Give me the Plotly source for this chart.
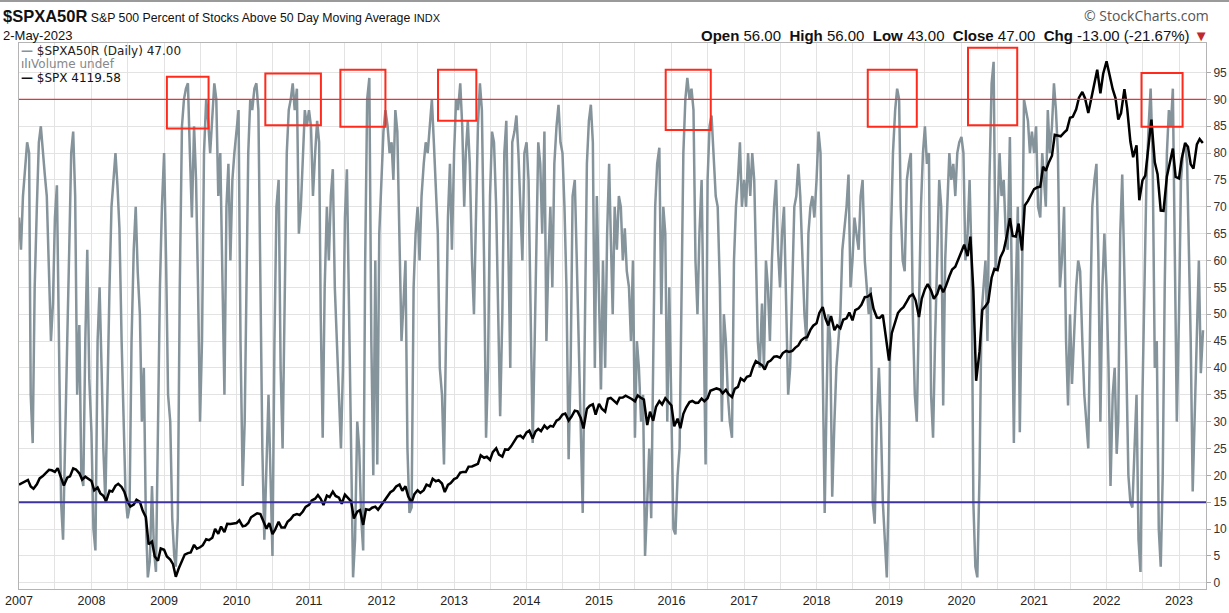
import pandas as pd
import plotly.graph_objects as go

# ---------------- data: $SPXA50R (percent above 50-day MA), read ~3 points per month (1st, 11th, 21st)
pct_2007 = [68, 62, 72, 78, 82, 80, 35, 26, 55, 70, 82, 85, 80, 76, 72, 60, 45, 52,
            68, 74, 45, 15, 8, 28, 45, 62, 80, 84, 72, 35, 48, 20, 18, 45, 62, 38]
pct_2008 = [28, 10, 6, 45, 55, 40, 25, 15, 38, 55, 70, 76, 80, 74, 66, 45, 28, 16,
            12, 14, 45, 62, 70, 58, 50, 30, 40, 12, 1, 4, 18, 6, 2, 30, 55, 70]
pct_2009 = [80, 60, 35, 30, 12, 5, 3, 12, 55, 85, 90, 92, 93, 80, 68, 85, 75, 55,
            30, 45, 80, 90, 86, 80, 88, 93, 90, 72, 80, 60, 35, 70, 78, 60, 75, 80]
pct_2010 = [85, 88, 45, 18, 30, 65, 80, 90, 88, 92, 93, 88, 60, 25, 8, 20, 35, 20,
            5, 45, 70, 75, 40, 25, 60, 80, 88, 90, 93, 88, 92, 65, 70, 80, 88, 85]
pct_2011 = [88, 85, 72, 80, 86, 82, 50, 27, 55, 70, 60, 72, 77, 55, 45, 36, 25, 40,
            68, 77, 50, 20, 1, 8, 30, 25, 12, 6, 60, 90, 94, 45, 20, 60, 22, 65]
pct_2012 = [75, 84, 88, 85, 80, 82, 75, 88, 84, 65, 45, 52, 60, 25, 13, 14, 55, 65,
            70, 60, 72, 78, 82, 80, 86, 90, 82, 72, 65, 40, 35, 22, 45, 68, 78, 62]
pct_2013 = [80, 90, 88, 93, 85, 70, 80, 86, 78, 60, 50, 70, 85, 93, 88, 60, 27, 40,
            72, 84, 82, 70, 50, 31, 50, 80, 86, 60, 40, 82, 84, 87, 80, 70, 60, 80]
pct_2014 = [82, 75, 55, 26, 45, 70, 82, 78, 65, 84, 45, 60, 70, 55, 78, 85, 89, 82,
            80, 70, 55, 23, 40, 72, 75, 60, 45, 28, 13, 45, 78, 86, 89, 82, 40, 72]
pct_2015 = [50, 36, 60, 40, 65, 78, 65, 50, 70, 62, 72, 70, 60, 66, 58, 55, 45, 60,
            27, 45, 40, 30, 35, 5, 15, 25, 12, 40, 70, 78, 81, 50, 70, 65, 30, 55]
pct_2016 = [35, 10, 9, 20, 25, 55, 80, 90, 94, 90, 92, 88, 60, 50, 65, 75, 50, 22,
            75, 85, 87, 78, 72, 70, 55, 30, 50, 45, 35, 30, 27, 60, 70, 75, 82, 70]
pct_2017 = [75, 70, 80, 72, 80, 75, 62, 45, 40, 52, 40, 60, 55, 45, 60, 70, 75, 62,
            55, 65, 70, 50, 35, 40, 55, 70, 72, 78, 72, 60, 50, 45, 65, 70, 72, 68]
pct_2018 = [75, 84, 80, 40, 13, 35, 50, 45, 16, 30, 40, 45, 50, 62, 66, 70, 76, 55,
            60, 68, 65, 62, 72, 75, 60, 55, 50, 55, 15, 11, 30, 40, 30, 15, 8, 1]
pct_2019 = [20, 65, 80, 88, 92, 90, 70, 60, 58, 75, 78, 80, 50, 35, 30, 50, 70, 80,
            85, 78, 80, 35, 27, 45, 60, 75, 70, 33, 60, 70, 80, 75, 78, 72, 80, 82]
pct_2020 = [83, 80, 60, 65, 75, 60, 15, 3, 1, 20, 50, 55, 60, 45, 75, 93, 97, 58,
            70, 80, 72, 75, 65, 62, 83, 50, 26, 55, 70, 28, 55, 90, 88, 86, 80, 84]
pct_2021 = [80, 85, 70, 68, 80, 75, 70, 88, 80, 85, 93, 88, 80, 55, 60, 70, 45, 33,
            50, 37, 45, 55, 60, 58, 45, 35, 30, 25, 50, 70, 75, 78, 60, 30, 55, 65]
pct_2022 = [55, 40, 18, 35, 40, 24, 30, 65, 76, 60, 40, 20, 15, 14, 25, 35, 8, 2,
            35, 55, 75, 85, 92, 80, 40, 45, 10, 3, 20, 55, 80, 88, 85, 92, 65, 30]
pct_2023 = [50, 75, 80, 82, 78, 60, 45, 17, 30, 45, 60, 39, 47]

# ---------------- data: $SPX close, semi-monthly (1st, 15th)
spx_2007 = [1418, 1431, 1445, 1456, 1404, 1386, 1421, 1468, 1486, 1512, 1536, 1532,
            1519, 1549, 1465, 1411, 1473, 1484, 1547, 1538, 1508, 1458, 1481, 1468]
spx_2008 = [1447, 1373, 1395, 1349, 1330, 1288, 1370, 1364, 1409, 1425, 1400, 1360,
            1284, 1245, 1260, 1298, 1282, 1213, 1161, 946, 968, 850, 816, 913]
spx_2009 = [903, 850, 825, 789, 690, 753, 811, 865, 877, 882, 942, 911,
            923, 940, 987, 979, 998, 1068, 1029, 1087, 1042, 1109, 1108, 1109]
spx_2010 = [1115, 1136, 1089, 1094, 1115, 1160, 1178, 1192, 1186, 1135, 1070, 1114,
            1027, 1065, 1125, 1079, 1080, 1125, 1146, 1176, 1185, 1178, 1206, 1243]
spx_2011 = [1258, 1293, 1307, 1336, 1306, 1257, 1332, 1320, 1363, 1329, 1315, 1267,
            1340, 1316, 1286, 1150, 1204, 1216, 1100, 1224, 1218, 1236, 1244, 1219]
spx_2012 = [1258, 1293, 1324, 1358, 1374, 1404, 1419, 1370, 1405, 1325, 1278, 1343,
            1374, 1353, 1375, 1418, 1406, 1465, 1445, 1454, 1427, 1360, 1416, 1430]
spx_2013 = [1462, 1472, 1513, 1519, 1518, 1561, 1562, 1574, 1582, 1650, 1631, 1639,
            1614, 1676, 1706, 1655, 1640, 1697, 1695, 1721, 1762, 1798, 1805, 1786]
spx_2014 = [1831, 1845, 1782, 1838, 1859, 1841, 1885, 1862, 1883, 1877, 1924, 1937,
            1973, 1981, 1925, 1955, 2003, 1998, 1946, 1862, 2018, 2041, 2053, 1972]
spx_2015 = [2058, 2019, 1995, 2097, 2104, 2081, 2060, 2106, 2108, 2122, 2111, 2096,
            2077, 2124, 2104, 2092, 1890, 1995, 1923, 2033, 2079, 2053, 2102, 2073]
spx_2016 = [2044, 1880, 1940, 1865, 1978, 2028, 2072, 2080, 2065, 2066, 2099, 2077,
            2102, 2161, 2173, 2179, 2170, 2140, 2168, 2133, 2111, 2176, 2191, 2258]
spx_2017 = [2239, 2271, 2279, 2347, 2395, 2381, 2363, 2329, 2388, 2400, 2430, 2433,
            2423, 2459, 2476, 2468, 2476, 2500, 2519, 2557, 2579, 2585, 2642, 2675]
spx_2018 = [2695, 2776, 2822, 2732, 2677, 2752, 2640, 2677, 2655, 2722, 2734, 2780,
            2718, 2798, 2813, 2840, 2901, 2905, 2924, 2809, 2740, 2736, 2760, 2600]
spx_2019 = [2400, 2616, 2707, 2775, 2803, 2822, 2867, 2907, 2924, 2876, 2744, 2889,
            2964, 3004, 2953, 2888, 2926, 2998, 2940, 2990, 3066, 3120, 3141, 3191]
spx_2020 = [3258, 3316, 3225, 3380, 2954, 2240, 2470, 2799, 2830, 2863, 3055, 3124,
            3115, 3215, 3271, 3372, 3526, 3385, 3380, 3483, 3270, 3626, 3662, 3701]
spx_2021 = [3756, 3768, 3774, 3932, 3901, 3962, 4020, 4185, 4181, 4173, 4202, 4223,
            4320, 4327, 4387, 4479, 4524, 4473, 4357, 4471, 4613, 4700, 4513, 4668]
spx_2022 = [4766, 4662, 4546, 4475, 4306, 4357, 4546, 4392, 4132, 4008, 4101, 3667,
            3825, 3863, 4118, 4305, 3967, 3873, 3586, 3583, 3856, 3959, 4076, 3852]
spx_2023 = [3840, 3999, 4119, 4090, 3951, 3917, 4109, 4151, 4119.58]

# ---------------- annotation boxes (highlighted peaks) and reference levels
box_start = ["2009-01-15", "2010-05-26", "2011-06-08", "2012-10-12",
             "2015-12-03", "2018-09-16", "2020-02-03", "2022-06-26"]
box_end = ["2009-08-13", "2011-03-02", "2012-01-21", "2013-04-23",
           "2016-07-17", "2019-05-21", "2020-10-08", "2023-01-19"]
box_top = [94.2, 94.8, 95.5, 95.5, 95.5, 95.5, 99.6, 94.9]
box_bottom = [84.6, 85.2, 84.9, 86.0, 84.3, 84.9, 85.2, 84.9]
upper_level = 90
lower_level = 15
year_ticks = list(range(2007, 2024))
y_ticks = list(range(0, 100, 5))

# ---------------- assemble series
pct_lists = [pct_2007, pct_2008, pct_2009, pct_2010, pct_2011, pct_2012, pct_2013,
             pct_2014, pct_2015, pct_2016, pct_2017, pct_2018, pct_2019, pct_2020,
             pct_2021, pct_2022]
pct_dates = []
for y in range(2007, 2023):
    for m in range(1, 13):
        for d in (1, 11, 21):
            pct_dates.append(f"{y}-{m:02d}-{d:02d}")
pct_dates += [f"2023-{m:02d}-{d:02d}" for m in range(1, 5) for d in (1, 11, 21)]
pct_dates.append("2023-05-02")
pct_values = [v for lst in pct_lists for v in lst] + pct_2023
assert len(pct_dates) == len(pct_values), (len(pct_dates), len(pct_values))

spx_lists = [spx_2007, spx_2008, spx_2009, spx_2010, spx_2011, spx_2012, spx_2013,
             spx_2014, spx_2015, spx_2016, spx_2017, spx_2018, spx_2019, spx_2020,
             spx_2021, spx_2022, spx_2023]
spx_values = [v for lst in spx_lists for v in lst]
spx_dates = list(pd.date_range("2007-01-01", periods=len(spx_values), freq="SMS"))

GRAY = "#85939b"
W, H = 1229, 613
L, R, T, B = 19, 1206, 43, 589


def xp(px):
    return (px - L) / (R - L)


def yp(py):
    return (B - py) / (B - T)


fig = go.Figure()
fig.add_trace(go.Scatter(x=pct_dates, y=pct_values, mode="lines",
                         line=dict(color=GRAY, width=2.5), hoverinfo="skip"))
fig.add_trace(go.Scatter(x=spx_dates, y=spx_values, mode="lines", yaxis="y2",
                         line=dict(color="#000000", width=2.5), hoverinfo="skip"))

shapes = [
    dict(type="line", xref="paper", yref="y", x0=0, x1=1, y0=upper_level, y1=upper_level,
         line=dict(color="#e4353b", width=1.3), layer="above"),
    dict(type="line", xref="paper", yref="y", x0=0, x1=1, y0=lower_level, y1=lower_level,
         line=dict(color="#3d32a3", width=2), layer="above"),
]
for x0, x1, y0, y1 in zip(box_start, box_end, box_bottom, box_top):
    shapes.append(dict(type="rect", xref="x", yref="y", x0=x0, x1=x1, y0=y0, y1=y1,
                       line=dict(color="#ff2a1c", width=2), fillcolor="rgba(0,0,0,0)",
                       layer="above"))
# thin frame line at the very top of the image
shapes.append(dict(type="line", xref="paper", yref="paper", x0=xp(0), x1=xp(W),
                   y0=yp(1), y1=yp(1), line=dict(color="#9a9a9a", width=2)))

SANS = "Liberation Sans, Arial, sans-serif"
ann = []
ann.append(dict(x=xp(1), y=yp(16), xref="paper", yref="paper", xanchor="left", yanchor="middle",
                showarrow=False,
                text="<b><span style='font-size:16.5px'>$SPXA50R</span></b> "
                     "S&amp;P 500 Percent of Stocks Above 50 Day Moving Average "
                     "<span style='font-size:11px'>INDX</span>",
                font=dict(family=SANS, size=12.3, color="#111")))
ann.append(dict(x=xp(1), y=yp(35), xref="paper", yref="paper", xanchor="left", yanchor="middle",
                showarrow=False, text="2-May-2023",
                font=dict(family=SANS, size=13, color="#111")))
ann.append(dict(x=xp(1211), y=yp(16), xref="paper", yref="paper", xanchor="right",
                yanchor="middle", showarrow=False, text="© StockCharts.com",
                font=dict(family="Open Sans, DejaVu Sans, sans-serif", size=14, color="#555")))
ann.append(dict(x=xp(1211), y=yp(35), xref="paper", yref="paper", xanchor="right",
                yanchor="middle", showarrow=False,
                text="<b>Open</b> 56.00  <b>High</b> 56.00  <b>Low</b> 43.00  "
                     "<b>Close</b> 47.00  <b>Chg</b> -13.00 (-21.67%) "
                     "<span style='color:#c0282d'>▼</span>",
                font=dict(family=SANS, size=15, color="#111")))
LEG = "DejaVu Sans, Verdana, sans-serif"
ann.append(dict(x=xp(19), y=yp(51), xref="paper", yref="paper", xanchor="left", yanchor="middle",
                showarrow=False,
                text=f"<span style='color:{GRAY}'><b>—</b></span> $SPXA50R (Daily) 47.00",
                font=dict(family=LEG, size=12, color="#222")))
ann.append(dict(x=xp(19), y=yp(64), xref="paper", yref="paper", xanchor="left", yanchor="middle",
                showarrow=False,
                text="<span style='color:#777'>ılı</span><span style='color:#888'>Volume undef</span>",
                font=dict(family=LEG, size=12, color="#888")))
ann.append(dict(x=xp(19), y=yp(78), xref="paper", yref="paper", xanchor="left", yanchor="middle",
                showarrow=False, text="<b>—</b> $SPX 4119.58",
                font=dict(family=LEG, size=12, color="#111")))

fig.update_layout(
    width=W, height=H,
    margin=dict(l=L, r=W - R, t=T, b=H - B, pad=0),
    paper_bgcolor="white", plot_bgcolor="white",
    showlegend=False,
    shapes=shapes, annotations=ann,
    xaxis=dict(type="date", range=["2007-01-01", "2023-05-17"], automargin=False,
               tickvals=[f"{y}-01-01" for y in year_ticks],
               ticktext=[str(y) for y in year_ticks],
               showgrid=True, gridcolor="#e3e3e3", gridwidth=1,
               minor=dict(dtick="M6", tick0="2007-01-01", showgrid=True,
                          gridcolor="#e3e3e3", gridwidth=1),
               showline=True, mirror=True, linecolor="#b4b4b4", linewidth=1,
               ticks="", zeroline=False,
               tickfont=dict(family=SANS, size=12.5, color="#222")),
    yaxis=dict(range=[-1.17, 100.5], side="right", automargin=False,
               tickvals=y_ticks, ticktext=[str(v) for v in y_ticks],
               showgrid=True, gridcolor="#e3e3e3", gridwidth=1,
               showline=True, mirror=True, linecolor="#b4b4b4", linewidth=1,
               ticks="outside", ticklen=4, tickcolor="#aaa", zeroline=False,
               tickfont=dict(family=SANS, size=12, color="#333")),
    yaxis2=dict(range=[593, 4911], overlaying="y", visible=False, automargin=False),
)

fig.write_html("out.html")
